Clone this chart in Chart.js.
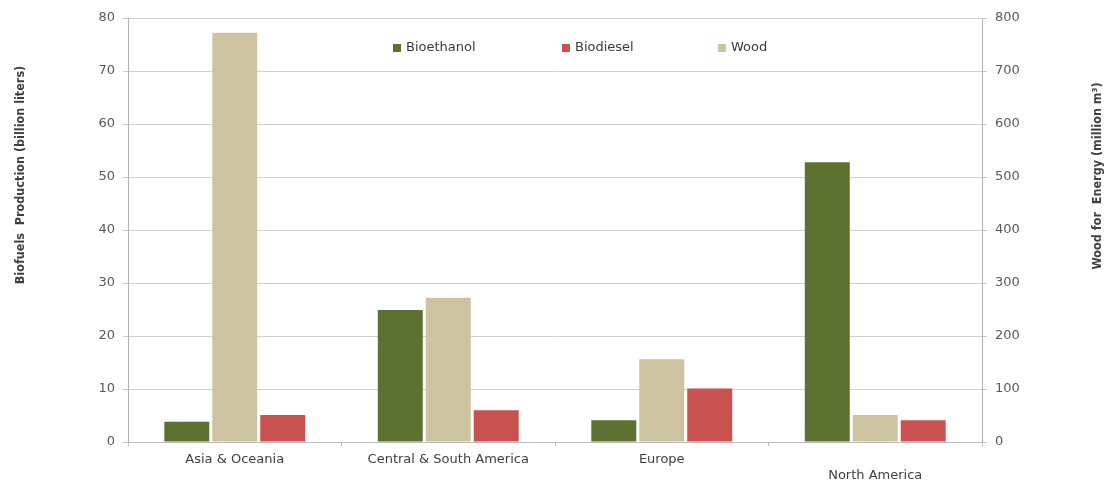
<!DOCTYPE html>
<html><head><meta charset="utf-8">
<script src="https://cdn.jsdelivr.net/npm/chart.js@4"></script>
<style>html,body{margin:0;padding:0;background:#fff}</style>
</head><body>
<canvas id="c" width="1108" height="482"></canvas>
<script>
const categories = ['Asia & Oceania', 'Central & South America', 'Europe', 'North America'];
const bioethanol = [3.8, 24.9, 4.1, 52.8];
const biodiesel = [5.1, 6.0, 10.1, 4.1];
const wood = [772, 272, 156, 51];
const leftTickValues = [0, 10, 20, 30, 40, 50, 60, 70, 80];
const rightTickValues = [0, 100, 200, 300, 400, 500, 600, 700, 800];
const legendOrder = ['Bioethanol', 'Biodiesel', 'Wood'];
const leftTitle = 'Biofuels  Production (billion liters)';
const rightTitle = 'Wood for  Energy (million m\u00B3)';

const GREEN = '#5d7131', RED = '#c9514f', TAN = '#cdc3a0';
const TICK_FONT = {family: '"DejaVu Sans", sans-serif', size: 13};

const overlayPlugin = {
  id: 'overlay',
  afterDraw(chart) {
    const ctx = chart.ctx;
    ctx.save();
    // axis titles
    ctx.fillStyle = '#404040';
    ctx.font = 'bold 12.5px "DejaVu Sans Condensed", "Liberation Sans Narrow", sans-serif';
    ctx.textAlign = 'center';
    ctx.textBaseline = 'middle';
    ctx.save(); ctx.translate(21, 175); ctx.rotate(-Math.PI / 2); ctx.fillText(leftTitle, 0, 0); ctx.restore();
    ctx.save(); ctx.translate(1098, 176); ctx.rotate(-Math.PI / 2); ctx.fillText(rightTitle, 0, 0); ctx.restore();
    // legend
    const xs = [393, 562, 718];
    ctx.font = '13px "DejaVu Sans", sans-serif';
    ctx.textAlign = 'left';
    legendOrder.forEach((name, i) => {
      const ds = chart.data.datasets.find(d => d.label === name);
      ctx.fillStyle = ds.backgroundColor;
      ctx.fillRect(xs[i], 44, 8, 8);
      ctx.fillStyle = '#3a3a3a';
      ctx.fillText(name, xs[i] + 13, 48);
    });
    ctx.restore();
  }
};

new Chart(document.getElementById('c'), {
  type: 'bar',
  data: {
    labels: categories,
    datasets: [
      {label: 'Bioethanol', data: bioethanol, backgroundColor: GREEN, yAxisID: 'y'},
      {label: 'Wood', data: wood, backgroundColor: TAN, yAxisID: 'y1'},
      {label: 'Biodiesel', data: biodiesel, backgroundColor: RED, yAxisID: 'y'}
    ]
  },
  options: {
    responsive: false,
    animation: false,
    layout: {padding: {top: 18, left: 0, right: 0, bottom: 0}},
    datasets: {bar: {categoryPercentage: 0.674, barPercentage: 0.9375, borderWidth: 0}},
    plugins: {legend: {display: false}, tooltip: {enabled: false}},
    scales: {
      x: {
        offset: true,
        grid: {display: true, drawOnChartArea: false, offset: true, tickLength: 4, color: '#bdbdbd'},
        border: {display: true, color: '#bdbdbd'},
        ticks: {
          font: {...TICK_FONT, lineHeight: 1.25}, color: '#404040', padding: 5, maxRotation: 0, autoSkip: false,
          callback: (v, i) => i === categories.length - 1 ? ['', categories[i]] : categories[i]
        },
        afterFit: s => { s.height = 40; }
      },
      y: {
        position: 'left', min: 0, max: 80,
        afterBuildTicks: s => { s.ticks = leftTickValues.map(v => ({value: v})); },
        grid: {color: '#d0d0d0', tickLength: 5, tickColor: '#c8c8c8'},
        border: {display: true, color: '#b0b0b0'},
        ticks: {font: TICK_FONT, color: '#595959', padding: 8},
        afterFit: s => { s.width = 128; }
      },
      y1: {
        position: 'right', min: 0, max: 800,
        afterBuildTicks: s => { s.ticks = rightTickValues.map(v => ({value: v})); },
        grid: {drawOnChartArea: false, tickLength: 5, tickColor: '#c8c8c8'},
        border: {display: true, color: '#b0b0b0'},
        ticks: {font: TICK_FONT, color: '#595959', padding: 8},
        afterFit: s => { s.width = 126; }
      }
    }
  },
  plugins: [overlayPlugin]
});
</script>
</body></html>
